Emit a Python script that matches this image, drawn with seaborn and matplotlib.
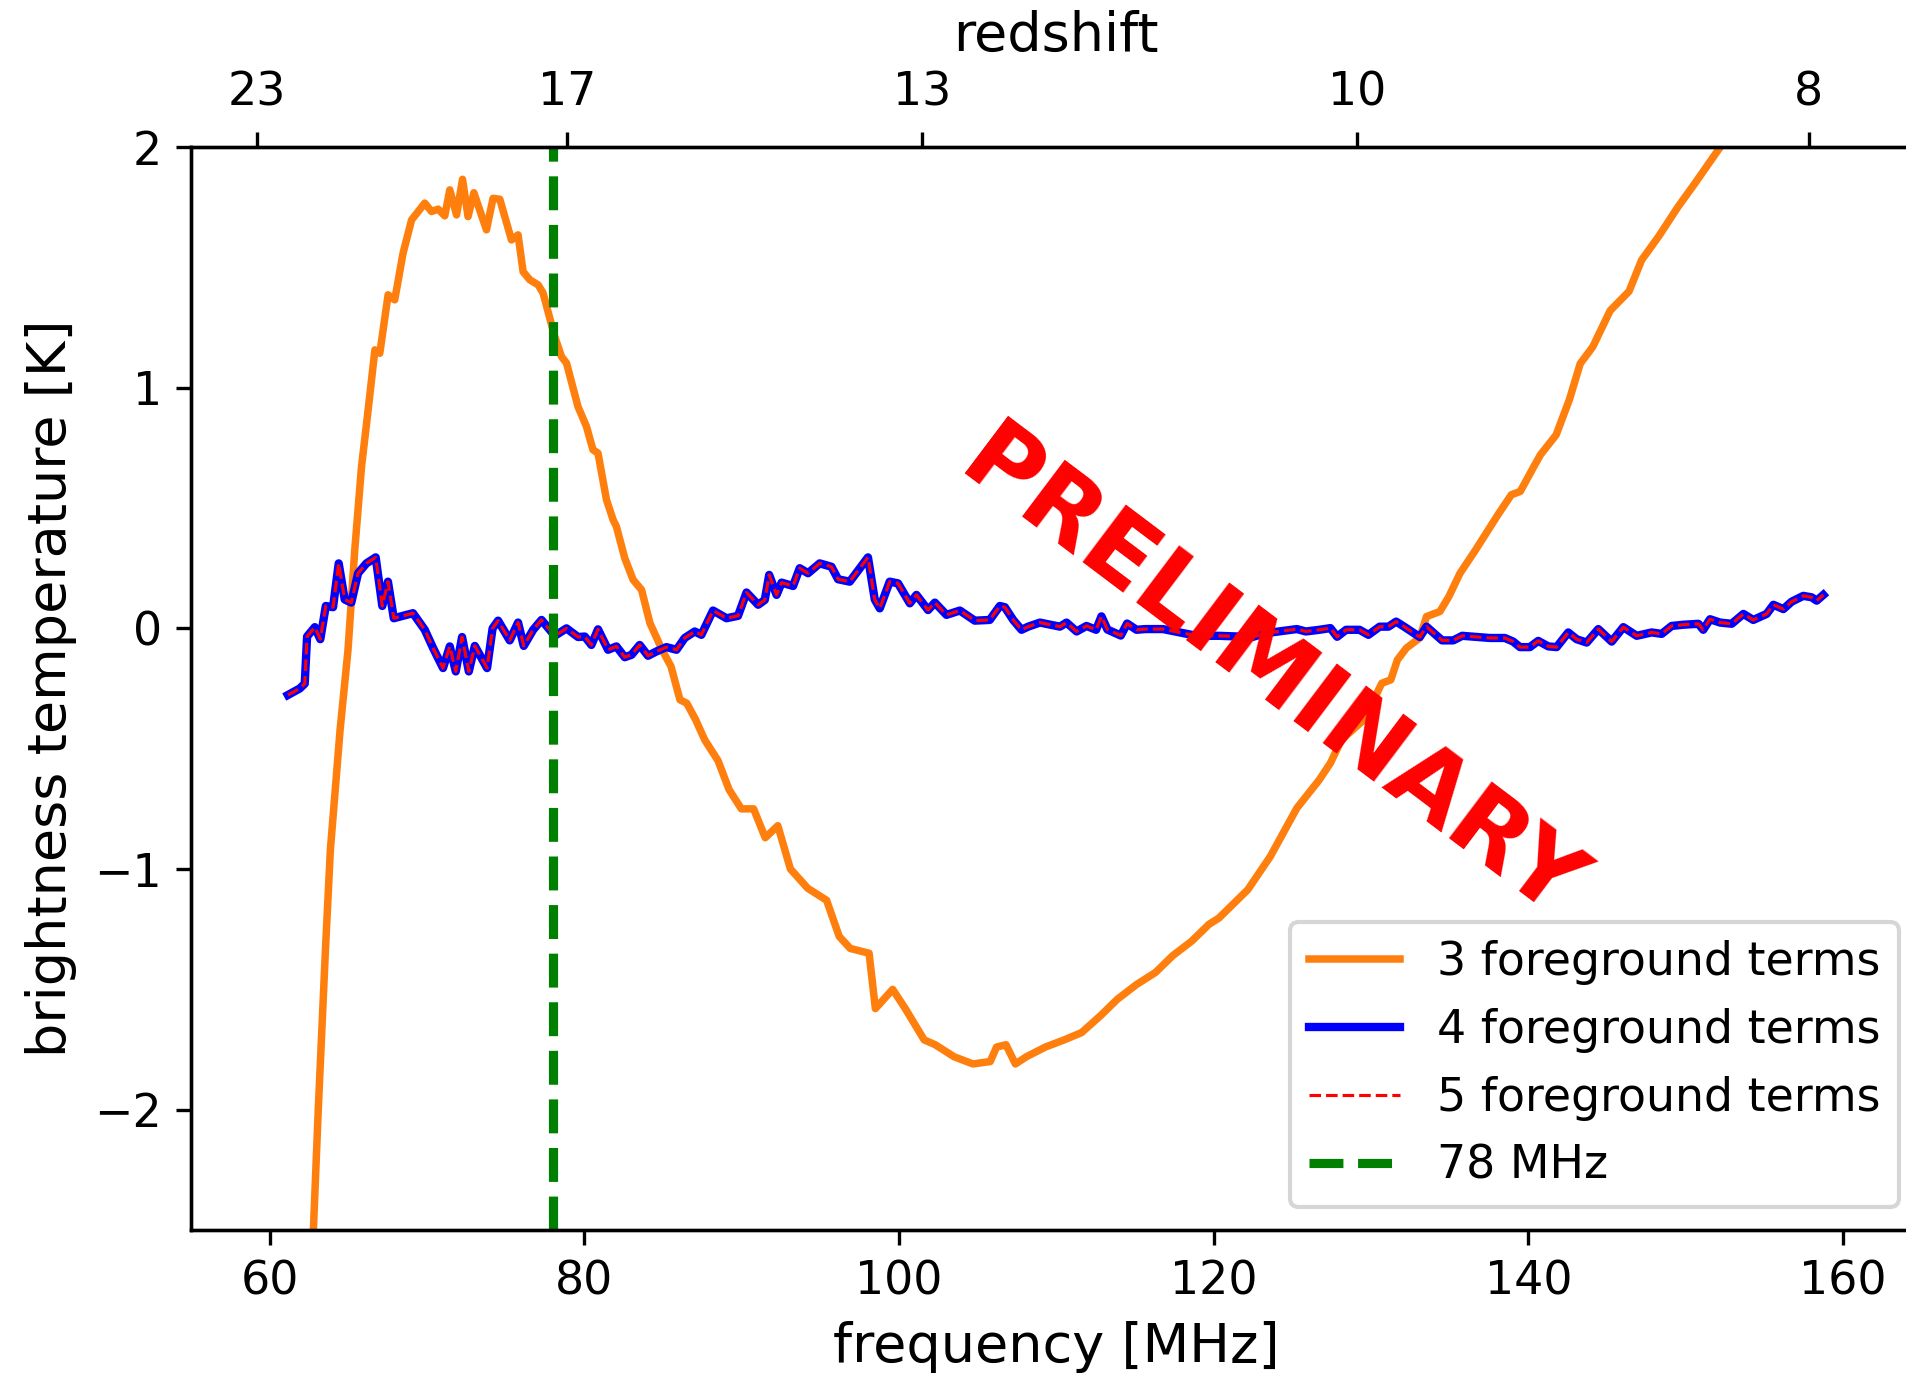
import numpy as np
import matplotlib
matplotlib.use("Agg")
import matplotlib.pyplot as plt
import seaborn as sns

# 3 foreground terms (orange)
freq3 = [62.4, 62.78, 63.09, 63.55, 63.86, 64.48, 64.98, 65.41, 65.84, 66.26, 66.69, 67.0,
         67.53, 67.95, 68.48, 69.02, 69.86, 70.29, 70.71, 71.13, 71.45, 71.88, 72.26, 72.61,
         72.98, 73.78, 74.2, 74.63, 75.37, 75.79, 76.11, 76.54, 77.07, 77.38, 78.12, 78.55,
         78.87, 79.6, 80.14, 80.55, 80.87, 81.41, 81.83, 82.04, 82.57, 83.1, 83.64, 84.17,
         84.94, 85.51, 86.08, 86.51, 87.08, 87.65, 88.5, 89.2, 89.98, 90.76, 91.5, 92.3,
         93.1, 94.2, 95.4, 96.2, 96.9, 98.1, 98.5, 99.6, 100.4, 101.6, 102.3, 103.5, 104.7,
         105.8, 106.2, 106.8, 107.4, 108.1, 109.3, 110.5, 111.6, 112.8, 113.9, 115.1, 116.3,
         117.4, 118.6, 119.7, 120.33, 122.17, 123.6, 125.29, 126.72, 127.42, 128.13, 129.55,
         130.69, 131.26, 131.68, 132.25, 133.1, 133.53, 134.38, 134.95, 135.66, 136.65,
         138.07, 138.92, 139.49, 140.35, 140.77, 141.77, 142.61, 143.3, 144.1, 145.2, 146.4,
         147.2, 148.3, 149.5, 150.6, 152.2, 154.0, 156.0, 158.75]
t3 = [-3.1, -2.5, -2.0, -1.33, -0.92, -0.42, -0.09, 0.326, 0.672, 0.908, 1.157, 1.143,
      1.386, 1.365, 1.559, 1.697, 1.767, 1.732, 1.742, 1.714, 1.822, 1.718, 1.866, 1.711,
      1.81, 1.656, 1.787, 1.783, 1.614, 1.635, 1.482, 1.448, 1.427, 1.393, 1.212, 1.129,
      1.102, 0.921, 0.838, 0.742, 0.728, 0.534, 0.451, 0.423, 0.292, 0.202, 0.16, 0.022,
      -0.089, -0.158, -0.297, -0.311, -0.38, -0.463, -0.55, -0.67, -0.75, -0.75, -0.87, -0.82,
      -1.0, -1.08, -1.13, -1.28, -1.33, -1.35, -1.58, -1.5, -1.58, -1.71, -1.73, -1.78, -1.81,
      -1.80, -1.74, -1.73, -1.81, -1.78, -1.74, -1.71, -1.68, -1.61, -1.54, -1.48, -1.43,
      -1.36, -1.30, -1.23, -1.204, -1.086, -0.948, -0.747, -0.629, -0.56, -0.463, -0.38,
      -0.228, -0.214, -0.131, -0.082, -0.04, 0.049, 0.07, 0.132, 0.229, 0.326,
      0.472, 0.555, 0.569, 0.672, 0.721, 0.804, 0.95, 1.10, 1.17, 1.32, 1.40,
      1.53, 1.63, 1.75, 1.85, 2.0, 2.2, 2.45, 2.75]

# 4 foreground terms (blue); 5 terms lies on top of it
freq4 = [61.16, 61.91, 62.23, 62.38, 62.87, 63.22, 63.57, 64.03, 64.39, 64.77, 65.19, 65.62,
         66.15, 66.74, 67.16, 67.52, 67.89, 68.48, 69.11, 69.86, 70.39, 71.02, 71.45, 71.83,
         72.23, 72.66, 73.04, 73.82, 74.17, 74.52, 75.26, 75.79, 76.15, 76.75, 77.28, 78.12,
         78.87, 79.6, 80.03, 80.45, 80.87, 81.51, 82.04, 82.57, 83.0, 83.52, 84.05, 84.58,
         85.22, 85.86, 86.38, 87.02, 87.44, 88.18, 89.04, 89.77, 90.31, 91.05, 91.47, 91.75,
         92.22, 92.54, 93.27, 93.69, 94.22, 94.96, 95.71, 96.13, 96.87, 98.03, 98.46, 98.78,
         99.41, 99.94, 100.69, 101.11, 101.85, 102.28, 103.02, 103.87, 104.82, 105.77, 106.41,
         106.73, 107.26, 107.79, 108.21, 108.96, 110.23, 110.65, 111.29, 111.92, 112.53,
         112.87, 113.25, 114.1, 114.5, 115.1, 115.65, 116.78, 118.06, 118.92, 120.33, 122.46,
         123.31, 125.29, 125.86, 126.72, 127.42, 127.85, 128.42, 129.27, 129.84, 130.55,
         131.11, 131.6, 132.11, 133.1, 133.53, 134.52, 135.23, 135.8, 137.56, 138.51, 139.04,
         139.47, 140.1, 140.63, 141.27, 141.8, 142.54, 143.07, 143.71, 144.45, 145.3, 146.04,
         146.89, 147.84, 148.48, 149.11, 149.85, 150.81, 151.12, 151.55, 152.19, 152.93,
         153.67, 154.3, 155.15, 155.58, 156.21, 156.74, 157.48, 158.01, 158.33, 158.75]
t4 = [-0.277, -0.25, -0.23, -0.034, 0.005, -0.045, 0.093, 0.088, 0.27, 0.12, 0.107, 0.229,
      0.27, 0.295, 0.093, 0.194, 0.042, 0.052, 0.063, -0.006, -0.082, -0.165, -0.075, -0.179,
      -0.036, -0.179, -0.073, -0.165, 0.0, 0.032, -0.05, 0.024, -0.073, -0.006, 0.035, -0.031,
      0.0, -0.036, -0.034, -0.069, -0.004, -0.089, -0.075, -0.12, -0.11, -0.069, -0.114, -0.096,
      -0.078, -0.089, -0.04, -0.013, -0.027, 0.074, 0.042, 0.052, 0.149, 0.098, 0.118, 0.222,
      0.139, 0.19, 0.176, 0.25, 0.229, 0.27, 0.256, 0.204, 0.194, 0.295, 0.12, 0.083,
      0.194, 0.187, 0.104, 0.139, 0.076, 0.107, 0.056, 0.074, 0.032, 0.035, 0.093,
      0.088, 0.035, -0.006, 0.007, 0.024, 0.007, 0.024, -0.013, 0.01, -0.006,
      0.05, -0.005, -0.03, 0.02, -0.006, -0.003, -0.003, -0.02, -0.031, -0.031, -0.036,
      -0.02, -0.003, -0.013, -0.006, 0.001, -0.035, -0.006, -0.006, -0.027, 0.007,
      0.007, 0.028, 0.007, -0.036, 0.007, -0.05, -0.05, -0.031, -0.04, -0.04, -0.055,
      -0.078, -0.078, -0.052, -0.075, -0.078, -0.017, -0.045, -0.059, -0.003, -0.055, 0.005,
      -0.031, -0.017, -0.023, 0.01, 0.015, 0.019, -0.006, 0.038, 0.024, 0.019,
      0.06, 0.035, 0.06, 0.098, 0.08, 0.111, 0.135, 0.129, 0.115, 0.139]
freq5 = list(freq4)
t5 = list(t4)

z_ticks = [23, 17, 13, 10, 8]
nu21 = 1420.4

fig = plt.figure(figsize=(1906 / 300, 1378 / 300), dpi=300)
ax = fig.add_axes([0.1002, 0.1074, 0.9080, 0.7859])

sns.lineplot(x=freq3, y=t3, ax=ax, color="#ff7f0e", lw=1.8, sort=False, estimator=None,
             label="3 foreground terms")
sns.lineplot(x=freq4, y=t4, ax=ax, color="blue", lw=2.0, sort=False, estimator=None,
             label="4 foreground terms")
sns.lineplot(x=freq5, y=t5, ax=ax, color="red", lw=0.75, ls="--", sort=False, estimator=None,
             label="5 foreground terms")
ax.axvline(78, color="green", ls="--", lw=2.2, label="78 MHz")

ax.set_xlim(55, 165)
ax.set_ylim(-2.5, 2)
ax.set_xticks([60, 80, 100, 120, 140, 160])
ax.set_yticks([-2, -1, 0, 1, 2])
ax.tick_params(labelsize=11)
ax.set_xlabel("frequency [MHz]", fontsize=13)
ax.set_ylabel("brightness temperature [K]", fontsize=13)

ax.text(123.6, -0.2, "PRELIMINARY", color="red", fontsize=23.6, fontweight="heavy",
        rotation=-37, rotation_mode="anchor", ha="center", va="center", zorder=4)

ax.legend(loc="lower right", fontsize=11)

# redshift axis on top
ax2 = ax.twiny()
ax2.set_xlim(ax.get_xlim())
ax2.set_xticks([nu21 / (1 + z) for z in z_ticks])
ax2.set_xticklabels([str(z) for z in z_ticks])
ax2.tick_params(labelsize=11, pad=4.1)
ax2.set_xlabel("redshift", fontsize=13, labelpad=4.6)

fig.savefig("out.png", dpi=300)
